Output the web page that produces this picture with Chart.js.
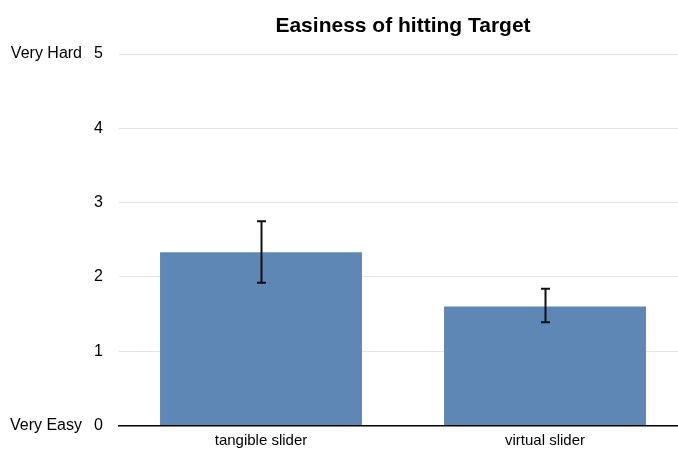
<!DOCTYPE html>
<html>
<head>
<meta charset="utf-8">
<script src="https://cdn.jsdelivr.net/npm/chart.js@4/dist/chart.umd.min.js"></script>
<style>
  html, body { margin: 0; padding: 0; background: #fff; }
  #wrap { width: 678px; height: 451px; overflow: hidden; }
</style>
</head>
<body>
<div id="wrap"><canvas id="c" width="690" height="451"></canvas></div>
<script>
// Easiness of hitting Target — mean rating with error bars
const categories = ['tangible slider', 'virtual slider'];
const means = [2.33, 1.6];
const errLow = [1.92, 1.39];
const errHigh = [2.75, 1.84];
const yTicks = [0, 1, 2, 3, 4, 5];
const yEnds = { 0: 'Very Easy', 5: 'Very Hard' };

const font = '"Liberation Sans", Arial, Helvetica, sans-serif';

// title centred over the plot area, not the canvas
const titlePlugin = {
    id: 'plotTitle',
    afterDraw(chart) {
        const ctx = chart.ctx, a = chart.chartArea;
        ctx.save();
        ctx.font = 'bold 21px ' + font;
        ctx.fillStyle = '#000';
        ctx.textAlign = 'center';
        ctx.textBaseline = 'alphabetic';
        ctx.fillText('Easiness of hitting Target', (a.left + a.right) / 2, 32);
        ctx.restore();
    }
};

const errorBars = {
    id: 'errorBars',
    afterDatasetsDraw(chart) {
        const ctx = chart.ctx;
        const y = chart.scales.y;
        const meta = chart.getDatasetMeta(0);
        ctx.save();
        ctx.strokeStyle = '#111';
        ctx.lineWidth = 2;
        meta.data.forEach((bar, i) => {
            const x = Math.round(bar.x) + 0.5;
            const top = y.getPixelForValue(errHigh[i]);
            const bot = y.getPixelForValue(errLow[i]);
            ctx.beginPath();
            ctx.moveTo(x, top); ctx.lineTo(x, bot);
            ctx.moveTo(x - 4.5, top); ctx.lineTo(x + 4.5, top);
            ctx.moveTo(x - 4.5, bot); ctx.lineTo(x + 4.5, bot);
            ctx.stroke();
        });
        ctx.restore();
    }
};

new Chart(document.getElementById('c'), {
    type: 'bar',
    data: {
        labels: categories,
        datasets: [{
            data: means,
            backgroundColor: '#5e87b5',
            borderWidth: 0,
            categoryPercentage: 1,
            barPercentage: 0.711
        }]
    },
    options: {
        responsive: false,
        animation: false,
        layout: { padding: { top: 54, right: 3, left: 0, bottom: 0 } },
        plugins: { legend: { display: false }, tooltip: { enabled: false }, title: { display: false } },
        scales: {
            x: {
                grid: { display: false, drawTicks: false },
                border: { display: true, color: '#000', width: 1.5 },
                ticks: { color: '#000', font: { family: font, size: 15 }, padding: 6 },
                afterFit(s) { s.height = 25; }
            },
            y: {
                min: 0, max: 5,
                afterBuildTicks(s) { s.ticks = yTicks.map(v => ({ value: v })); },
                grid: { color: '#e4e4e4', lineWidth: 1, drawTicks: false },
                border: { display: false },
                ticks: {
                    color: '#000',
                    font: { family: font, size: 16 },
                    padding: 16,
                    callback: v => (yEnds[v] ? yEnds[v] + '  \u2009' : '') + v
                },
                afterFit(s) { s.width = 119; }
            }
        }
    },
    plugins: [titlePlugin, errorBars]
});
</script>
</body>
</html>
